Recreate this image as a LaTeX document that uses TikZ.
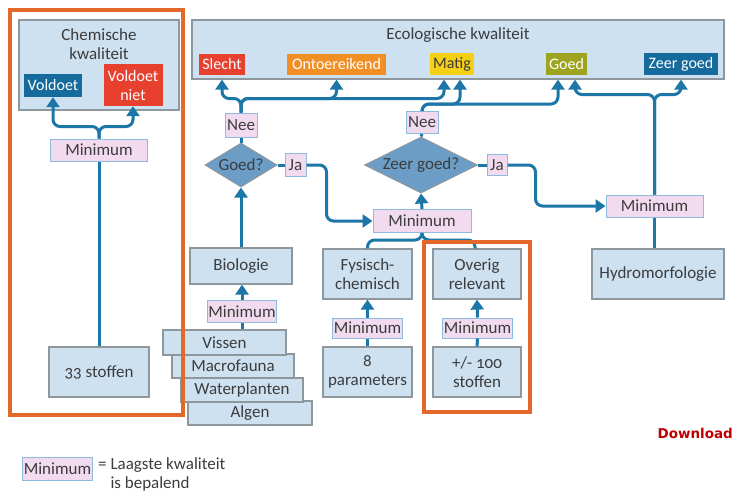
\documentclass[tikz,border=0pt]{standalone}
\usepackage{fontspec}
\setmainfont{Carlito}[Numbers=OldStyle]
\newfontfamily\dlfont{DejaVu Sans}
\usetikzlibrary{arrows.meta,shapes.geometric}

\definecolor{lichtblauw}{HTML}{CEE1F1}
\definecolor{randgrijs}{HTML}{8E979C}
\definecolor{roze}{HTML}{F3DBEF}
\definecolor{rozerand}{HTML}{8DBADF}
\definecolor{pijlblauw}{HTML}{1C76A8}
\definecolor{ruitblauw}{HTML}{6B9DC6}
\definecolor{donkerblauw}{HTML}{166B9D}
\definecolor{rood}{HTML}{E7402F}
\definecolor{oranje}{HTML}{F28F24}
\definecolor{geel}{HTML}{F6CF17}
\definecolor{olijf}{HTML}{9EA420}
\definecolor{kader}{HTML}{E2692A}
\definecolor{tekst}{HTML}{3C3C3C}
\definecolor{dlrood}{HTML}{C00000}

\tikzset{
  blok/.style={draw=randgrijs, fill=lichtblauw, line width=1.2pt, text=tekst, align=center, inner sep=1pt},
  minbox/.style={draw=rozerand, fill=roze, line width=1pt, text=tekst, inner sep=1pt},
  klasse/.style={text=white, inner sep=1pt, align=center, font=\fontsize{16}{19}\selectfont},
  keuze/.style={diamond, draw=randgrijs, fill=ruitblauw, line width=1pt, text=tekst, inner sep=0pt, aspect=2},
  flow/.style={draw=pijlblauw, line width=3pt, rounded corners=7pt},
  pijl/.style={flow, -{Triangle[width=13pt,length=10pt]}},
  kaderlijn/.style={draw=kader, line width=4.5pt}
}

\begin{document}
\begin{tikzpicture}[x=1pt, y=-1pt, font=\fontsize{17}{19}\selectfont]
    \useasboundingbox (0,0) rectangle (735,493);

    % Chemische kwaliteit
    \node[blok, minimum width=160pt, minimum height=90pt] (chem) at (99,65) {};
    \node[text=tekst, align=center] (chemtitel) at (99,44) {Chemische\\kwaliteit};
    \node[klasse, fill=donkerblauw, minimum width=58pt, minimum height=23pt] (voldoet) at (53,85.5) {Voldoet};
    \node[klasse, fill=rood, minimum width=59pt, minimum height=42pt] (voldoetniet) at (133,85) {Voldoet\\niet};
    \node[minbox, minimum width=97pt, minimum height=22pt] (minC) at (99,150) {Minimum};
    \node[blok, minimum width=100pt, minimum height=50pt] (stof33) at (99,372) {33 stoffen};

    % Ecologische kwaliteit
    \node[blok, minimum width=532pt, minimum height=59pt] (eco) at (458,49.5) {};
    \node[text=tekst] (ecotitel) at (458,35) {Ecologische kwaliteit};
    \node[klasse, fill=rood, minimum width=46pt, minimum height=21pt] (slecht) at (222,64.5) {Slecht};
    \node[klasse, fill=oranje, minimum width=99pt, minimum height=21pt] (onto) at (336.5,64.5) {Ontoereikend};
    \node[klasse, fill=geel, text=tekst, minimum width=44pt, minimum height=22pt] (matig) at (452,64) {Matig};
    \node[klasse, fill=olijf, minimum width=41pt, minimum height=22pt] (goed) at (566.5,64) {Goed};
    \node[klasse, fill=donkerblauw, minimum width=74pt, minimum height=22pt] (zeergoed) at (681,64) {Zeer goed};

    % Beslissingen
    \node[minbox, minimum width=32pt, minimum height=24pt] (nee1) at (241,125) {Nee};
    \node[keuze, minimum width=72pt, minimum height=44pt] (goedq) at (241,165) {Goed?};
    \node[minbox, minimum width=21pt, minimum height=23pt] (ja1) at (295.5,165) {Ja};
    \node[minbox, minimum width=32pt, minimum height=22pt] (nee2) at (422,122.5) {Nee};
    \node[keuze, minimum width=113pt, minimum height=56pt] (zeerq) at (421,165) {Zeer goed?};
    \node[minbox, minimum width=20pt, minimum height=21pt] (ja2) at (497,165) {Ja};

    % Biologie
    \node[blok, minimum width=102pt, minimum height=36pt] (bio) at (241,266) {Biologie};
    \node[minbox, minimum width=69pt, minimum height=22pt] (minB) at (242,311.5) {Minimum};
    \node[blok, minimum width=124pt, minimum height=24pt] (algen) at (250,413) {Algen};
    \node[blok, minimum width=122pt, minimum height=24pt] (water) at (242,390) {Waterplanten};
    \node[blok, minimum width=122pt, minimum height=24pt] (macro) at (233,366) {Macrofauna};
    \node[blok, minimum width=123pt, minimum height=25pt] (vissen) at (224.5,342.5) {Vissen};

    % Fysisch-chemisch en overig relevant
    \node[minbox, minimum width=98pt, minimum height=23pt] (minM) at (422,221) {Minimum};
    \node[blok, minimum width=89pt, minimum height=50pt] (fys) at (367.5,274) {Fysisch-\\chemisch};
    \node[minbox, minimum width=67pt, minimum height=20pt] (minF) at (367.5,328) {Minimum};
    \node[blok, minimum width=89pt, minimum height=50pt] (param) at (367.5,372) {8\\parameters};
    \node[blok, minimum width=88pt, minimum height=50pt] (overig) at (477,274) {Overig\\relevant};
    \node[minbox, minimum width=69pt, minimum height=20pt] (minO) at (477.5,328) {Minimum};
    \node[blok, minimum width=88pt, minimum height=50pt] (stof100) at (477,372) {+/- 100\\stoffen};

    % Hydromorfologie
    \node[minbox, minimum width=97pt, minimum height=22pt] (minR) at (654.5,206) {Minimum};
    \node[blok, minimum width=132pt, minimum height=50pt] (hydro) at (658,274) {Hydromorfologie};

    % Verbindingen chemisch
    \draw[pijl] (minC.north) -- ++(0,-12) -| (voldoet.south);
    \draw[pijl] (minC.north) -- ++(0,-12) -| (voldoetniet.south);
    \draw[flow] (minC.south) -- (stof33.north);

    % Verbindingen ecologisch
    \draw[pijl] (nee1.north) -- ++(0,-14) -| (slecht.south |- eco.south);
    \draw[pijl] (nee1.north) -- ++(0,-14) -| (onto.south |- eco.south);
    \draw[pijl] (nee1.north) -- ++(0,-14) -| ([xshift=-8pt]matig.south |- eco.south);
    \draw[pijl] (nee2.north) -- ++(0,-7) -| ([xshift=8pt]matig.south |- eco.south);
    \draw[pijl] (nee2.north) -- ++(0,-7) -| ([xshift=-8.5pt]goed.south |- eco.south);
    \draw[pijl] (minR.north) -- ++(0,-100) -| ([xshift=8.5pt]goed.south |- eco.south);
    \draw[pijl] (minR.north) -- ++(0,-100) -| (zeergoed.south |- eco.south);
    \draw[flow] (nee1.south) -- (goedq.north);
    \draw[flow] (nee2.south) -- (zeerq.north);
    \draw[flow] (goedq.east) -- (ja1.west);
    \draw[flow] (zeerq.east) -- (ja2.west);
    \draw[pijl] (ja1.east) -- ++(20,0) |- (minM.west);
    \draw[pijl] (ja2.east) -- ++(28,0) |- (minR.west);
    \draw[pijl] (bio.north) -- (goedq.south);
    \draw[pijl] (minM.north) -- (zeerq.south);
    \draw[flow] (minR.south) -- (minR.south |- hydro.north);

    % Onderliggende minima
    \draw[pijl] (minB.north) -- (minB.north |- bio.south);
    \draw[flow] (minB.south) -- (minB.south |- vissen.north);
    \draw[flow] (minM.south) -- ++(0,7) -| (fys.north);
    \draw[flow] (minM.south) -- ++(0,7) -| ([xshift=-2pt]overig.north);
    \draw[pijl] (minF.north) -- (fys.south);
    \draw[flow] (minF.south) -- (param.north);
    \draw[pijl] (minO.north) -- (overig.south);
    \draw[flow] (minO.south) -- (stof100.north);

    % Oranje kaders
    \draw[kaderlijn] (10,10) rectangle (183,415);
    \draw[kaderlijn] (424,242) rectangle (530,412);

    % Legenda
    \node[minbox, minimum width=69pt, minimum height=23pt] (minL) at (57.5,468.5) {Minimum};
    \node[text=tekst, anchor=north west, align=left, inner sep=0pt] (legtekst) at (98,457) {= Laagste kwaliteit\\\hphantom{= }is bepalend};
    \node[text=dlrood, anchor=east, inner sep=0pt, font=\dlfont\bfseries\fontsize{13.5}{16}\selectfont] (download) at (733,433) {Download};
\end{tikzpicture}
\end{document}
